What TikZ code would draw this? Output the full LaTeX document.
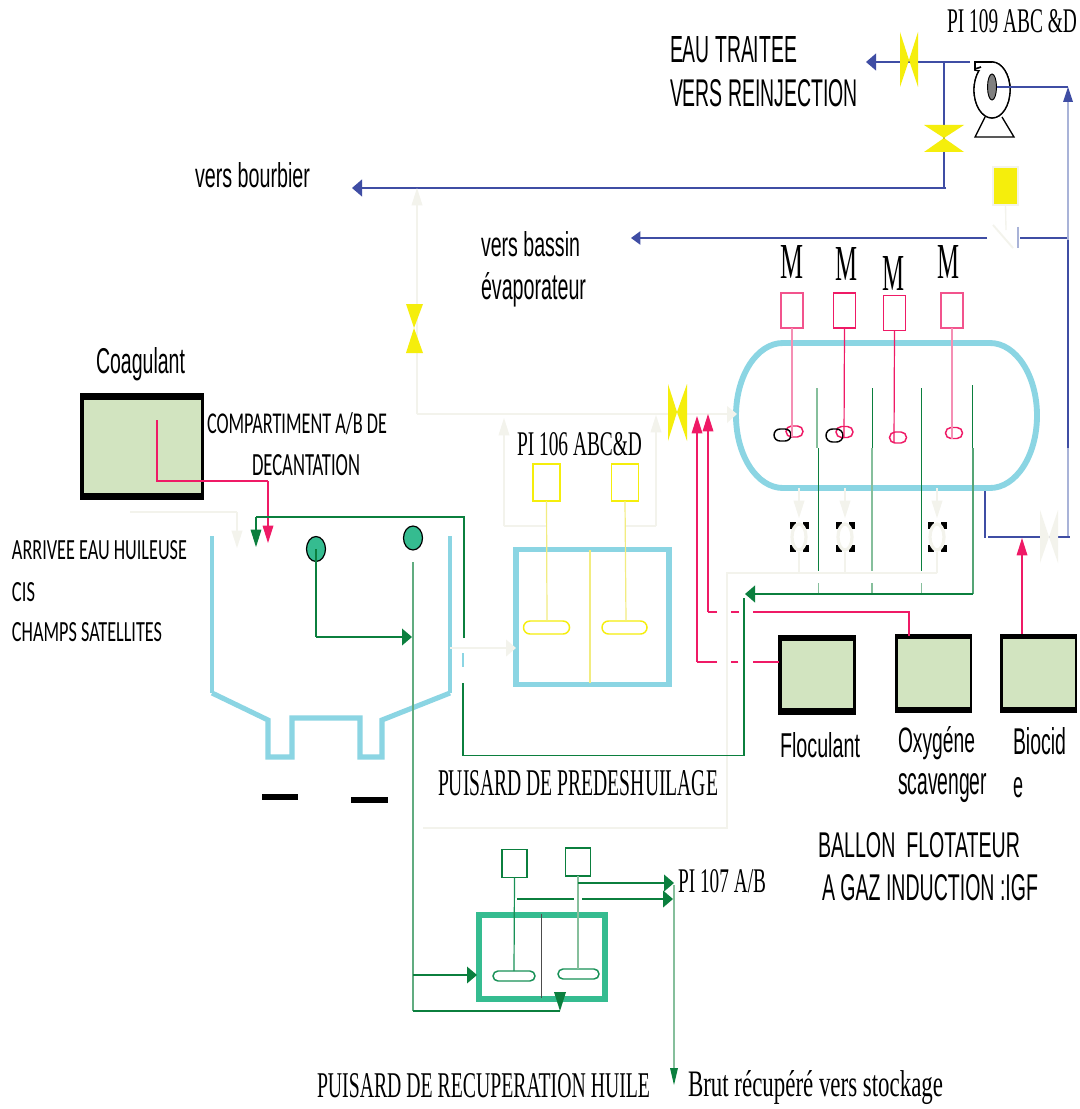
\documentclass[tikz,border=0pt]{standalone}
\usepackage{graphicx}
\usepackage{fontspec}
\usetikzlibrary{arrows.meta,shapes.misc,shapes.geometric}
\setmainfont{Liberation Serif}
\newfontfamily\sanf{Liberation Sans}
\newfontfamily\calf{Carlito}
\newlength\pxu \setlength\pxu{0.75pt}
\definecolor{cy}{HTML}{8BD5E3}
\definecolor{gr}{HTML}{0B7F3E}
\definecolor{lgr}{HTML}{86BF9C}
\definecolor{te}{HTML}{35BC90}
\definecolor{pk}{HTML}{EF1A66}
\definecolor{lpk}{HTML}{F58FB4}
\definecolor{bl}{HTML}{3F4DA4}
\definecolor{lbl}{HTML}{A9B3D8}
\definecolor{ye}{HTML}{F5EE0C}
\definecolor{lye}{HTML}{F2EC80}
\definecolor{ow}{HTML}{F3F3EC}
\definecolor{fg}{HTML}{D2E4C0}
\newcommand{\tx}[7]{\node[anchor=base west,inner sep=0pt,outer sep=0pt] (#1) at (#3,#4) {\resizebox{#5\pxu}{#6\pxu}{#2#7}};}
\tikzset{
  arH/.style={-{Triangle[length=7.5pt,width=12.5pt]}},
  arV/.style={-{Triangle[length=13pt,width=8pt]}},
  gbox/.style={fill=black,inner sep=0pt,outer sep=0pt},
  gin/.style={fill=fg,inner sep=0pt,outer sep=0pt},
  mot/.style={draw=pk,line width=1pt,inner sep=0pt,outer sep=0pt,minimum width=22\pxu,minimum height=35\pxu},
  ymot/.style={draw=ye,line width=1pt,inner sep=0pt,outer sep=0pt,minimum width=27\pxu,minimum height=37\pxu},
  gmot/.style={draw=gr,line width=1pt,inner sep=0pt,outer sep=0pt,minimum width=25\pxu,minimum height=28\pxu},
  imp/.style={rounded rectangle,draw=pk,line width=1.1pt,inner sep=0pt,outer sep=0pt,minimum width=17\pxu,minimum height=11\pxu},
  tank/.style={line width=4.4pt,inner sep=0pt,outer sep=0pt},
}
\begin{document}
\begin{tikzpicture}[x=0.75pt,y=-0.75pt]
\fill[white] (0,0) rectangle (1080,1109);
\useasboundingbox (0,0) rectangle (1080,1109);
% ---------- vessel
\draw[cy,line width=4.4pt] (783,343) -- (990,343) .. controls (1016,343) and (1037,375.5) .. (1037,415.5) .. controls (1037,455.5) and (1016,488) .. (990,488) -- (783,488) .. controls (757,488) and (736,455.5) .. (736,415.5) .. controls (736,375.5) and (757,343) .. (783,343) -- cycle;
\coordinate (vesW) at (736,414);
% ---------- tanks
\node[draw=cy,tank,minimum width=153\pxu,minimum height=135\pxu] (pt1) at (592.5,617) {};
\node[draw=te,tank,minimum width=126\pxu,minimum height=84\pxu] (pt2) at (542,957) {};
\draw[cy,line width=2.6pt] (212,536) -- (212,693);
\draw[cy,line width=2.6pt] (450,536) -- (450,693);
\draw[cy,line width=3.8pt] (212,693) -- (268,720) -- (268,757) -- (292,757) -- (292,718) -- (360,718) -- (360,757) -- (382,757) -- (382,720) -- (450,693);
\fill[black] (262,794) rectangle (298,800);
\fill[black] (351,797) rectangle (388,803);
\draw[lye,line width=1pt] (590,550) -- (590,683);
\draw[black!70,line width=.7pt] (541,914) -- (541,998);
% ---------- chemical boxes
\node[gbox,minimum width=124\pxu,minimum height=107\pxu] (coag) at (142,446.5) {};
\node[gin,minimum width=117\pxu,minimum height=93\pxu] (coagi) at (142.5,446.5) {};
\node[gbox,minimum width=78\pxu,minimum height=80\pxu] (floc) at (817,675) {};
\node[gin,minimum width=71\pxu,minimum height=67\pxu] (floci) at (817.5,674.5) {};
\node[gbox,minimum width=77\pxu,minimum height=79\pxu] (oxy) at (933.5,673.5) {};
\node[gin,minimum width=72\pxu,minimum height=68\pxu] (oxyi) at (934,673) {};
\node[gbox,minimum width=77\pxu,minimum height=79\pxu] (bio) at (1038.5,673.5) {};
\node[gin,minimum width=72\pxu,minimum height=68\pxu] (bioi) at (1039,673) {};
% ---------- motors and impellers of the vessel
\node[mot,draw=lpk!50!pk] (m1) at (792,310.5) {};
\node[mot] (m2) at (844.5,310.5) {};
\node[mot] (m3) at (894.5,313) {};
\node[mot,draw=lpk!50!pk] (m4) at (952,310.5) {};
\node[imp] (i1) at (794.5,431.5) {};
\node[imp] (i2) at (844.5,432) {};
\node[imp] (i3) at (898,437.5) {};
\node[imp] (i4) at (954,433) {};
\node[imp,draw=black,minimum height=12\pxu] (b1) at (782.5,435) {};
\node[imp,draw=black,minimum height=13\pxu] (b2) at (834.5,435.5) {};
\draw[lpk,line width=1pt] (m1.south) -- (792,437);
\draw[pk,line width=.9pt] (m2.south) -- (844,438);
\draw[pk,line width=.9pt] (m3.south) -- (894,443);
\draw[lpk,line width=1pt] (m4.south) -- (952,439);
% ---------- baffles
\draw[lgr,line width=.8pt] (817,388) -- (817,448);
\draw[gr,line width=.7pt] (818,448) -- (818,571);
\draw[lgr,line width=.7pt] (818,583) -- (818,594);
\draw[gr,line width=.7pt] (872,388) -- (872,448);
\draw[lgr,line width=.9pt] (872,448) -- (872,571) (872,583) -- (872,594);
\draw[gr,line width=.7pt] (921,388) -- (921,571);
\draw[lgr,line width=.7pt] (921,583) -- (921,594);
\draw[gr,line width=.7pt] (972,385) -- (972,448);
\coordinate (gout) at (973,594);
\draw[lgr!60!gr,line width=.9pt] (973,448) -- (gout);
\coordinate (gtip) at (745,594);
\draw[gr,line width=1.5pt,arH] (gout) -- (gtip);
% ---------- off-white flows below vessel
\foreach \n/\x in {a/799,b/845,c/937}{
  \fill[black] (\x-9.5,522) rectangle (\x+9.5,552);
  \fill[white] (\x-3.5,522) rectangle (\x+3.5,552);
  \fill[white] (\x-9.5,529) rectangle (\x+9.5,545);
  \draw[ow,line width=2.4pt,fill=white] (\x,537) ellipse [x radius=7,y radius=13];
  \coordinate (dr\n) at (\x,488);
  \coordinate (dt\n) at (\x,518);
  \coordinate (db\n) at (\x,552);
  \coordinate (dl\n) at (\x,573);
  \draw[ow,line width=1pt,arV] (dr\n) -- (dt\n);
  \draw[ow,line width=1pt] (db\n) -- (dl\n);
}
\coordinate (owc) at (727,573);
\coordinate (owd) at (727,828);
\coordinate (owe) at (423,828);
\draw[ow,line width=1pt] (dlc) -- (owc) -- (owd) -- (owe);
% ---------- pump and blue lines
\coordinate (pe) at (997,87);
\coordinate (tee) at (1068,87);
\coordinate (l1) at (1068,102);
\coordinate (l2) at (1068,240);
\coordinate (l3) at (1068,448);
\coordinate (l4) at (1068,537);
\draw[lbl,line width=1.2pt] (l1) -- (l2);
\draw[lbl,line width=1.2pt] (l3) -- (l4);
\draw[bl,line width=.9pt] (l2) -- (l3);
\draw[bl,line width=1.3pt] (pe) -- (tee);
\fill[bl] (1063,102) -- (1073,102) -- (tee) -- cycle;
\coordinate (disc) at (970,62);
\coordinate (eauT) at (866,62);
\draw[bl,line width=1.5pt,arH] (disc) -- (eauT);
\coordinate (brT) at (944,62);
\coordinate (brB) at (944,188);
\coordinate (bourb) at (352,188);
\draw[bl,line width=.9pt] (brT) -- (brB);
\draw[bl,line width=1.5pt,arH] ([xshift=1.5pt]brB) -- (bourb);
\coordinate (bas1) at (987,238);
\coordinate (basT) at (631,238);
\coordinate (bas2) at (1020,238);
\coordinate (bas3) at (1067,238);
\draw[bl,line width=.9pt,-{Triangle[length=7pt,width=10pt]}] (bas1) -- (basT);
\draw[bl,line width=.9pt] (bas2) -- (bas3);
\draw[lbl,line width=1pt] (1018,227) -- (1018,248);
\draw[ow,line width=1.4pt] (993,225) -- (1013,248);
\node[draw=ow,fill=ye,line width=1pt,inner sep=0pt,minimum width=25\pxu,minimum height=38\pxu] (yb) at (1005.5,186) {};
\coordinate (cv) at (1006,230);
\draw[ow,line width=1pt] (yb.south) -- (cv);
% pump body
\draw[black,line width=1pt,fill=white] (992,90) ellipse [x radius=18,y radius=28];
\draw[black,line width=1.2pt,fill=white] (975,62) -- (992,62) .. controls (1003,64) and (1010,76) .. (1010,90) -- (985,72) -- (975,70) -- cycle;
\draw[black,line width=1pt,fill=white] (992,90) ellipse [x radius=18,y radius=28];
\fill[white] (976,63) -- (992,63) -- (992,70) -- (976,70) -- cycle;
\draw[black,line width=1.3pt] (975,62) -- (992,62) (975,62) -- (975,69) -- (981,67);
\draw[black,line width=1pt] (985,117) -- (975,137) -- (1014,137) -- (1002,117);
\draw[black,line width=.7pt,fill=gray] (992,87) ellipse [x radius=4.5,y radius=13];
\draw[bl,line width=1.3pt] (pe) -- (tee);
% valves
\fill[ye] (900,32) -- (900,87) -- (909,60) -- cycle (918,32) -- (918,87) -- (909,60) -- cycle;
\fill[ye] (924,125) -- (964,125) -- (944,138) -- cycle (924,152) -- (964,152) -- (944,138) -- cycle;
% blue outlet of vessel
\coordinate (vo) at (985,491);
\coordinate (vo2) at (985,538);
\coordinate (vo3) at (988,537);
\draw[bl,line width=.8pt] (vo) -- (vo2);
\draw[bl,line width=1.5pt] (vo3) -- (1070,537);
\fill[ow] (1040,510) -- (1040,563) -- (1049,537) -- cycle (1058,510) -- (1058,563) -- (1049,537) -- cycle;
\coordinate (bioA) at (1022,538);
\coordinate (bioB) at (1022,634);
\draw[pk,line width=.9pt,arV] (bioB) -- (bioA);
% ---------- decanter
\node[ellipse,draw=black,fill=te,line width=.9pt,inner sep=0pt,outer sep=0pt,minimum width=19\pxu,minimum height=25\pxu] (c1) at (316,549) {};
\node[ellipse,draw=black,fill=te,line width=.9pt,inner sep=0pt,outer sep=0pt,minimum width=19\pxu,minimum height=24\pxu] (c2) at (413,538) {};
\coordinate (g1) at (316,637);
\coordinate (g1t) at (412,637);
\draw[gr,line width=.8pt] (c1.center) -- (g1);
\draw[gr,line width=1.2pt,arH] (g1) -- (g1t);
\coordinate (g2) at (413,562);
\coordinate (g3) at (413,1011);
\coordinate (g4) at (560,1011);
\coordinate (g5) at (413,975);
\coordinate (g6) at (477,975);
\draw[lgr!70!gr,line width=.8pt] (g2) -- (g3);
\draw[gr,line width=.9pt] (g3) -- (g4);
\draw[gr,line width=.9pt,arH] (g5) -- (g6);
\fill[gr] (554,992) -- (566,992) -- (g4) -- cycle;
% coagulant pink
\coordinate (pc1) at (157,420);
\coordinate (pc2) at (157,481);
\coordinate (pc3) at (268,481);
\coordinate (pc4) at (268,543);
\draw[pk,line width=.9pt] (pc1) -- (pc2) -- (pc3);
\draw[pk,line width=.9pt,arV] (pc3) -- (pc4);
% arrivee eau
\coordinate (ar1) at (130,512);
\coordinate (ar2) at (237,512);
\coordinate (ar3) at (237,548);
\draw[ow,line width=1.2pt] (ar1) -- (ar2);
\draw[ow,line width=1.2pt,arV] (ar2) -- (ar3);
% green loop
\coordinate (gl1) at (744,598);
\coordinate (gl2) at (744,755.6);
\coordinate (gl3) at (463,755.6);
\coordinate (gl4) at (463,683);
\coordinate (gl5) at (464,638);
\coordinate (gl6) at (464,517);
\coordinate (gl7) at (256,517);
\coordinate (gl8) at (256,547);
\draw[gr,line width=.9pt] (gl1) -- (gl2) -- (gl3) -- (gl4);
\draw[gr,line width=.9pt] (gl5) -- (gl6) -- (gl7);
\draw[gr,line width=.8pt,arV] (gl7) -- (gl8);
\draw[cy,line width=.9pt] (463,653) -- (463,667);
% off-white into tank 1
\coordinate (ow1) at (450,648);
\draw[ow,line width=1.4pt,arH] (ow1) -- (pt1.west |- ow1);
% ---------- tank 1 motors
\node[ymot] (y1) at (546.5,482.5) {};
\node[ymot] (y2) at (625,482.5) {};
\node[imp,draw=ye,minimum width=46\pxu,minimum height=13\pxu] (yi1) at (546.5,627.5) {};
\node[imp,draw=ye,minimum width=45\pxu,minimum height=13\pxu] (yi2) at (624.5,627.5) {};
\coordinate (ys1) at (547,526);
\coordinate (ys2) at (626,526);
\coordinate (o1) at (504,526);
\coordinate (o2) at (504,418);
\coordinate (o3) at (656,526);
\coordinate (o4) at (656,415);
\draw[ow,line width=1pt] (ys1) -- (o1);
\draw[ow,line width=1pt,arV] (o1) -- (o2);
\draw[ow,line width=1pt] (ys2) -- (o3);
\draw[ow,line width=1pt,arV] (o3) -- (o4);
\draw[lye,line width=.9pt] (y1.south) -- (547,621);
\draw[lye,line width=.9pt] (y2.south) -- (626,621);
\coordinate (h0) at (417,414);
\coordinate (h1) at (417,188);
\draw[ow,line width=1pt] (h0) -- (vesW);
\fill[ow] (727,406) -- (737,414) -- (727,423) -- cycle;
\draw[ow,line width=1pt,arV] (h0) -- (h1);
\fill[ye] (406,304) -- (423,304) -- (414,328) -- cycle (406,353) -- (423,353) -- (414,328) -- cycle;
\fill[ye] (668,384) -- (668,441) -- (677,412) -- cycle (687,384) -- (687,441) -- (677,412) -- cycle;
% pink arrows to header
\coordinate (fl1) at (779,662);
\coordinate (fl2) at (697,662);
\coordinate (fl3) at (697,416);
\coordinate (ox1) at (909,636);
\coordinate (ox2) at (909,612);
\coordinate (ox3) at (708,612);
\coordinate (ox4) at (708,414);
\draw[pk,line width=1.1pt,dash pattern=on 19.5pt off 11pt on 5.5pt off 10.5pt on 500pt] (fl1) -- (fl2);
\draw[pk,line width=.9pt,arV] (fl2) -- (fl3);
\draw[pk,line width=1.1pt,dash pattern=on 135pt off 10.5pt on 6pt off 10.5pt on 500pt] (ox1) -- (ox2) -- (ox3);
\draw[pk,line width=.9pt,arV] (ox3) -- (ox4);
% ---------- tank 2 motors
\node[gmot] (gm1) at (514.5,863.5) {};
\node[gmot] (gm2) at (578,862) {};
\node[imp,draw=gr!70!te,minimum width=42\pxu,minimum height=10\pxu] (gi1) at (514,976) {};
\node[imp,draw=gr!70!te,minimum width=41\pxu,minimum height=10\pxu] (gi2) at (578.5,974) {};
\draw[gr!70!te,line width=.9pt] (gm1.south) -- (514,971);
\draw[lgr,line width=.8pt] (gm2.south) -- (578,969);
\coordinate (s1) at (578,883);
\coordinate (s2) at (674,883);
\coordinate (s3) at (517,899);
\coordinate (s4) at (673,899);
\coordinate (s5) at (674,885);
\coordinate (s6) at (674,1085);
\draw[gr,line width=1.4pt,arH] (s1) -- (s2);
\draw[gr,line width=1.4pt,dash pattern=on 43pt off 6pt on 200pt,arH] (s3) -- (s4);
\draw[lgr,line width=1.2pt] (s5) -- (674,1068);
\fill[gr] (670,1068) -- (678,1068) -- (s6) -- cycle;
% ---------- texts
\tx{t1}{\rmfamily}{947}{33}{130}{23}{PI 109 ABC \&D}
\tx{t2}{\sanf}{670}{63}{127}{26}{EAU TRAITEE}
\tx{t3}{\sanf}{670}{107}{188}{27}{VERS REINJECTION}
\tx{t4}{\sanf}{195}{188}{115}{25}{vers bourbier}
\tx{t5}{\sanf}{481}{257}{99}{25}{vers bassin}
\tx{t6}{\sanf}{481}{299}{105}{27}{évaporateur}
\tx{t7}{\sanf}{96}{373}{89}{26}{Coagulant}
\tx{t8}{\calf}{207}{433}{180}{21}{COMPARTIMENT A/B DE}
\tx{t9}{\calf}{252}{475}{108}{21}{DECANTATION}
\tx{t10}{\calf}{12}{559}{175}{19}{ARRIVEE EAU HUILEUSE}
\tx{t11}{\calf}{12}{601}{23}{19}{CIS}
\tx{t12}{\calf}{12}{641}{150}{19}{CHAMPS SATELLITES}
\tx{t13}{\rmfamily}{517}{455}{125}{23}{PI 106 ABC\&D}
\tx{t14}{\rmfamily}{438}{795}{280}{25}{PUISARD DE PREDESHUILAGE}
\tx{t15}{\sanf}{780}{757}{80}{25}{Floculant}
\tx{t16}{\sanf}{898}{752}{77}{26}{Oxygéne}
\tx{t17}{\sanf}{898}{794}{89}{21}{scavenger}
\tx{t18}{\sanf}{1013}{754}{53}{27}{Biocid}
\tx{t19}{\sanf}{1013}{797}{10}{20}{e}
\tx{t20}{\sanf}{818}{857}{202}{25}{BALLON~~FLOTATEUR}
\tx{t21}{\sanf}{822}{900}{216}{26}{A GAZ INDUCTION :IGF}
\tx{t22}{\rmfamily}{678}{892}{88}{23}{PI 107 A/B}
\tx{t23}{\rmfamily}{317}{1097}{333}{24}{PUISARD DE RECUPERATION HUILE}
\tx{t24}{\rmfamily}{688}{1096}{255}{26}{Brut récupéré vers stockage}
\tx{t25}{\rmfamily}{780}{278}{23}{33}{M}
\tx{t26}{\rmfamily}{835}{280}{22}{33}{M}
\tx{t27}{\rmfamily}{882}{290}{22}{34}{M}
\tx{t28}{\rmfamily}{937}{278}{22}{33}{M}
\end{tikzpicture}
\end{document}
